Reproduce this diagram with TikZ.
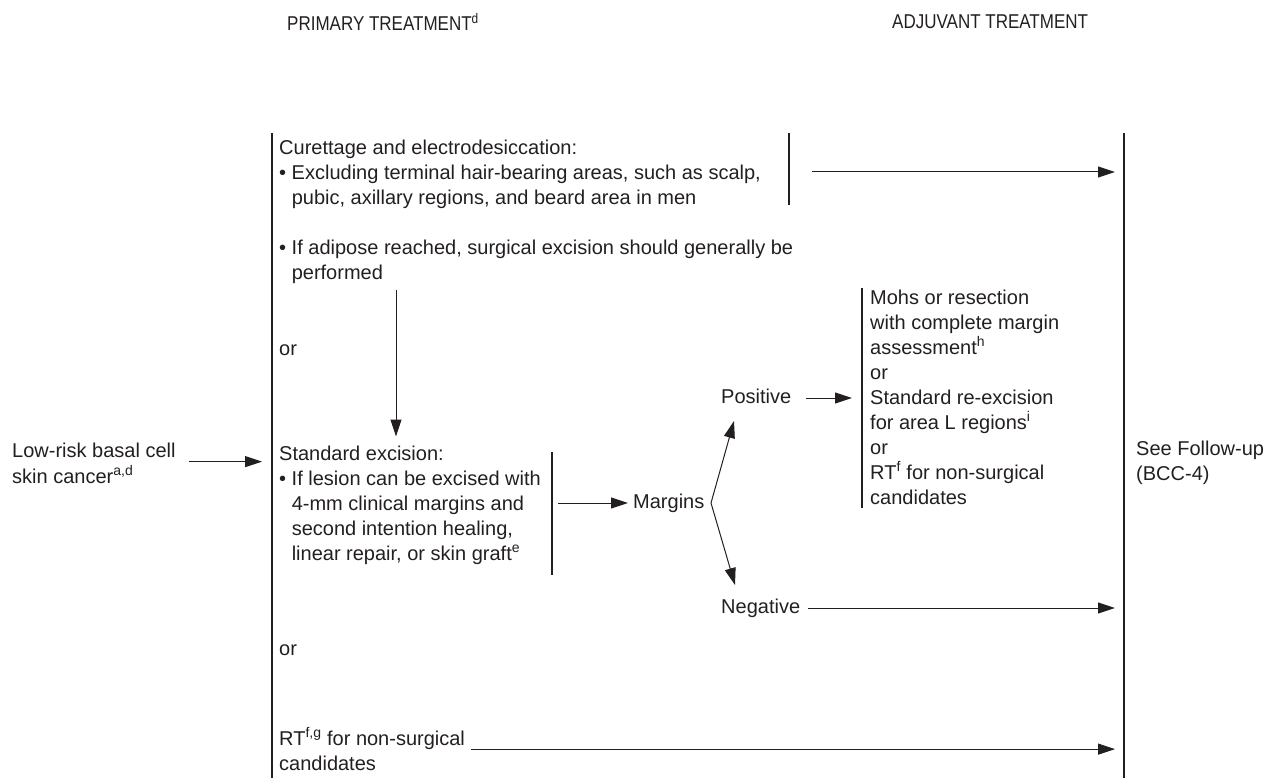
\documentclass[tikz,border=0pt]{standalone}
\usepackage{fontspec}
\setmainfont{Liberation Sans}
\newfontfamily\narrowfont[FakeStretch=0.85]{Liberation Sans}
\usetikzlibrary{arrows.meta}
\definecolor{ink}{RGB}{35,31,32}
\newcommand{\bulletgap}{\hphantom{•\ }}

\begin{document}
\begin{tikzpicture}[x=1pt,y=-1pt,color=ink]
\tikzset{every node/.style={inner sep=0pt,font=\fontsize{20}{25}\selectfont}}
\tikzset{block/.style={anchor=north west,align=left}}
\tikzset{word/.style={anchor=west}}
\tikzset{head/.style={anchor=west,font=\narrowfont\fontsize{20}{22}\selectfont}}
\tikzset{flow/.style={-{Triangle[length=17pt,width=11pt]},line width=1pt}}
\tikzset{bar/.style={line width=1.1pt}}

\useasboundingbox (0,0) rectangle (1274,778);

\node[head] (prim) at (287,22) {PRIMARY TREATMENT\textsuperscript{d}};
\node[head] (adj) at (892,22) {ADJUVANT TREATMENT};

\coordinate (Ltop) at (272,133); \coordinate (Lbot) at (272,778);
\coordinate (Rtop) at (1124,133); \coordinate (Rbot) at (1124,778);
\draw[bar] (Ltop) -- (Lbot);
\draw[bar] (Rtop) -- (Rbot);

\node[block] (low) at (12,439.5) {\strut Low-risk basal cell\\skin cancer\textsuperscript{a,d}};
\draw[flow,shorten <=13pt,shorten >=10pt] (low.east) -- (low.east -| Ltop);

\node[block] (cur) at (279,136.5) {\strut Curettage and electrodesiccation:\\• Excluding terminal hair-bearing areas, such as scalp,\\\bulletgap pubic, axillary regions, and beard area in men};
\coordinate (c1top) at (789,133); \coordinate (c1bot) at (789,205);
\draw[bar] (c1top) -- (c1bot);
\coordinate (curA) at (812,172);
\draw[flow,shorten >=9pt] (curA) -- (curA -| Rtop);

\node[block] (adip) at (279,236.5) {\strut • If adipose reached, surgical excision should generally be\\\bulletgap performed};
\node[word] (or1) at (279,350) {\strut or};

\node[block] (stdx) at (279,442.5) {\strut Standard excision:\\• If lesion can be excised with\\\bulletgap 4-mm clinical margins and\\\bulletgap second intention healing,\\\bulletgap linear repair, or skin graft\textsuperscript{e}};
\coordinate (adipA) at (396,290);
\draw[flow,shorten >=6pt] (adipA) -- (adipA |- stdx.north);
\coordinate (c2top) at (552,452); \coordinate (c2bot) at (552,575);
\draw[bar] (c2top) -- (c2bot);

\node[word] (marg) at (633,503) {\strut Margins};
\coordinate (stdA) at (558,503);
\draw[flow,shorten >=5pt] (stdA) -- (stdA -| marg.west);

\coordinate (fork) at (711,503);
\coordinate (posT) at (734,421); \coordinate (negT) at (735,585);
\draw[flow] (fork) -- (posT);
\draw[flow] (fork) -- (negT);

\node[word] (pos) at (721,398) {\strut Positive};
\node[word] (neg) at (721,608) {\strut Negative};

\coordinate (c3top) at (862,288); \coordinate (c3bot) at (862,508);
\draw[bar] (c3top) -- (c3bot);
\draw[flow,shorten <=15pt,shorten >=10pt] (pos.east) -- (pos.east -| c3top);
\node[block] (mohs) at (870,286.5) {\strut Mohs or resection\\with complete margin\\assessment\textsuperscript{h}\\or\\Standard re-excision\\for area L regions\textsuperscript{i}\\or\\RT\textsuperscript{f} for non-surgical\\candidates};

\draw[flow,shorten <=8pt,shorten >=9pt] (neg.east) -- (neg.east -| Rtop);

\node[word] (or2) at (279,650) {\strut or};

\node[block] (rt) at (279,727.5) {\strut RT\textsuperscript{f,g} for non-surgical\\candidates};
\draw[flow,shorten <=6pt,shorten >=9pt] (rt.east) -- (rt.east -| Rtop);

\node[block] (follow) at (1136,437.5) {\strut See Follow-up\\(BCC-4)};

\end{tikzpicture}
\end{document}
